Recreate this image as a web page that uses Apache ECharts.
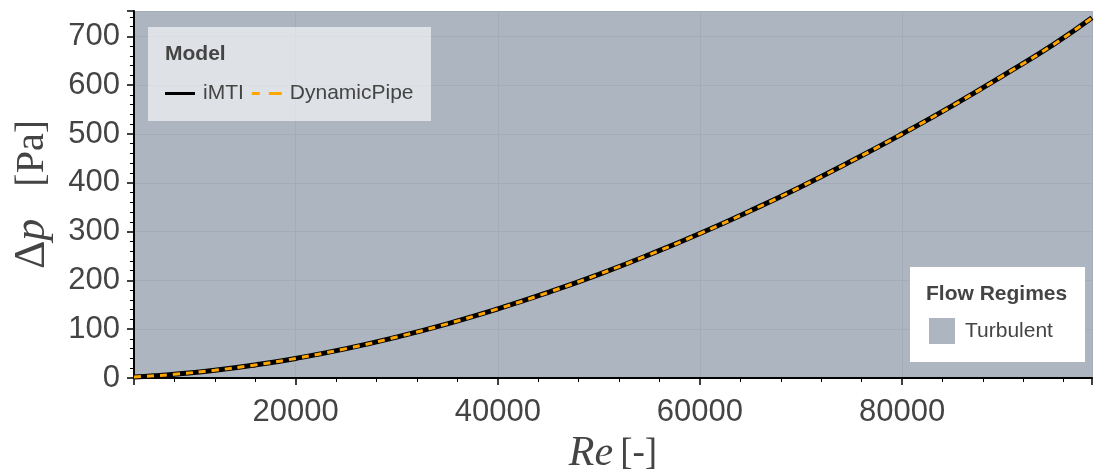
<!DOCTYPE html>
<html>
<head>
<meta charset="utf-8">
<script src="https://cdn.jsdelivr.net/npm/echarts@6/dist/echarts.min.js"></script>
<style>
  html, body { margin: 0; padding: 0; background: #fff; }
  #chart { width: 1094px; height: 470px; }
</style>
</head>
<body>
<div id="chart"></div>
<script>
// Reynolds number samples and pressure drop (Pa)
const reynolds = [4000, 6000, 8000, 12000, 16000, 20000, 25000, 30000, 35000, 40000, 45000,
  50000, 55000, 60000, 65000, 70000, 75000, 80000, 85000, 90000, 95000, 98800];
const dpIMTI = [2.1, 4.5, 7.6, 15.8, 26.7, 40.1, 60.2, 83.9, 111, 141.6, 175.5,
  212.5, 252.8, 296, 342.6, 392, 444.6, 500, 558, 619.6, 683.5, 738];
const dpDynamicPipe = [2.1, 4.5, 7.6, 15.8, 26.7, 40.1, 60.2, 83.9, 111, 141.6, 175.5,
  212.5, 252.8, 296, 342.6, 392, 444.6, 500, 558, 619.6, 683.5, 738];
// flow regime span on the Re axis
const turbulentRange = [4000, 98800];

const textColor = '#444';
const sans = "'Liberation Sans', Arial, sans-serif";
const serif = "'Liberation Serif', 'DejaVu Serif', serif";

const toPairs = (xs, ys) => xs.map((x, i) => [x, ys[i]]);

const chart = echarts.init(document.getElementById('chart'));

const axisCommon = {
  axisLine: { show: true, onZero: false, lineStyle: { color: '#000', width: 2 } },
  axisTick: { show: true, length: 7, lineStyle: { color: '#000', width: 1.5 } },
  minorTick: { show: true, splitNumber: 5, length: 4, lineStyle: { color: '#000', width: 1 } },
  splitLine: { show: true, lineStyle: { color: '#a4adb7', width: 1 } },
  axisLabel: { color: textColor, fontSize: 31, fontFamily: sans, showMaxLabel: false },
  nameLocation: 'middle',
  nameTextStyle: { color: textColor }
};

const option = {
  animation: false,
  grid: { left: 134, right: 2, top: 11, bottom: 92, outerBoundsMode: 'none', containLabel: false },
  xAxis: Object.assign({}, axisCommon, {
    type: 'value',
    min: turbulentRange[0],
    max: turbulentRange[1],
    splitNumber: 5,
    axisLabel: Object.assign({}, axisCommon.axisLabel, {
      margin: 19, showMinLabel: false, formatter: v => String(v)
    }),
    name: '{i|Re}{g| }{b|[-]}',
    nameGap: 46,
    nameTextStyle: {
      color: textColor,
      rich: {
        i: { fontFamily: serif, fontStyle: 'italic', fontSize: 42, color: textColor },
        g: { width: 7, fontSize: 37 },
        b: { fontFamily: serif, fontSize: 37, color: textColor }
      }
    }
  }),
  yAxis: Object.assign({}, axisCommon, {
    type: 'value',
    min: 0,
    max: 752,
    interval: 100,
    axisLabel: Object.assign({}, axisCommon.axisLabel, { margin: 14, padding: [4, 0, 0, 0] }),
    name: '{d|Δ}{i|p}{g| }{b|[Pa]}',
    nameGap: 80,
    nameTextStyle: {
      color: textColor,
      rich: {
        d: { fontFamily: serif, fontSize: 44, color: textColor },
        i: { fontFamily: serif, fontStyle: 'italic', fontSize: 44, color: textColor },
        g: { width: 32, fontSize: 40 },
        b: { fontFamily: serif, fontSize: 40, color: textColor }
      }
    }
  }),
  legend: [
    {
      data: [
        { name: 'iMTI', icon: 'path://M0,0H30V3H0Z' },
        { name: 'DynamicPipe', icon: 'path://M0,0H8V3H0Z M17,0H30V3H17Z' }
      ],
      left: 165,
      top: 83,
      padding: 0,
      itemWidth: 30,
      itemHeight: 14,
      itemGap: 8,
      textStyle: { color: textColor, fontSize: 21, fontFamily: sans, padding: [0, 0, 0, 3] },
      selectedMode: false
    },
    {
      data: ['Turbulent'],
      left: 929,
      top: 318,
      padding: 0,
      icon: 'rect',
      itemWidth: 26,
      itemHeight: 26,
      textStyle: { color: textColor, fontSize: 21, fontFamily: sans, padding: [0, 0, 0, 5] },
      selectedMode: false
    }
  ],
  graphic: [
    {
      type: 'rect', z: 3, silent: true,
      shape: { x: 148, y: 27, width: 283, height: 94 },
      style: { fill: 'rgba(255,255,255,0.6)' }
    },
    {
      type: 'text', z: 4, silent: true, x: 165, y: 54,
      style: { text: 'Model', fill: textColor, font: "bold 21px 'Liberation Sans', Arial, sans-serif", verticalAlign: 'middle' }
    },
    {
      type: 'rect', z: 3, silent: true,
      shape: { x: 910, y: 267, width: 175, height: 95 },
      style: { fill: '#fff' }
    },
    {
      type: 'text', z: 4, silent: true, x: 926, y: 294,
      style: { text: 'Flow Regimes', fill: textColor, font: "bold 21px 'Liberation Sans', Arial, sans-serif", verticalAlign: 'middle' }
    }
  ],
  series: [
    {
      name: 'Turbulent',
      type: 'line',
      data: [],
      itemStyle: { color: '#adb6c0' },
      markArea: {
        silent: true,
        z: -1,
        itemStyle: { color: '#adb6c0' },
        data: [[{ xAxis: turbulentRange[0] }, { xAxis: turbulentRange[1] }]]
      }
    },
    {
      name: 'iMTI',
      type: 'line',
      smooth: true,
      symbol: 'none',
      data: toPairs(reynolds, dpIMTI),
      itemStyle: { color: '#000' },
      lineStyle: { color: '#000', width: 5 },
      z: 3
    },
    {
      name: 'DynamicPipe',
      type: 'line',
      smooth: true,
      symbol: 'none',
      data: toPairs(reynolds, dpDynamicPipe),
      itemStyle: { color: '#ffa500' },
      lineStyle: { color: '#ffa500', width: 3, type: [7, 6] },
      z: 4
    }
  ]
};

chart.setOption(option);
</script>
</body>
</html>
